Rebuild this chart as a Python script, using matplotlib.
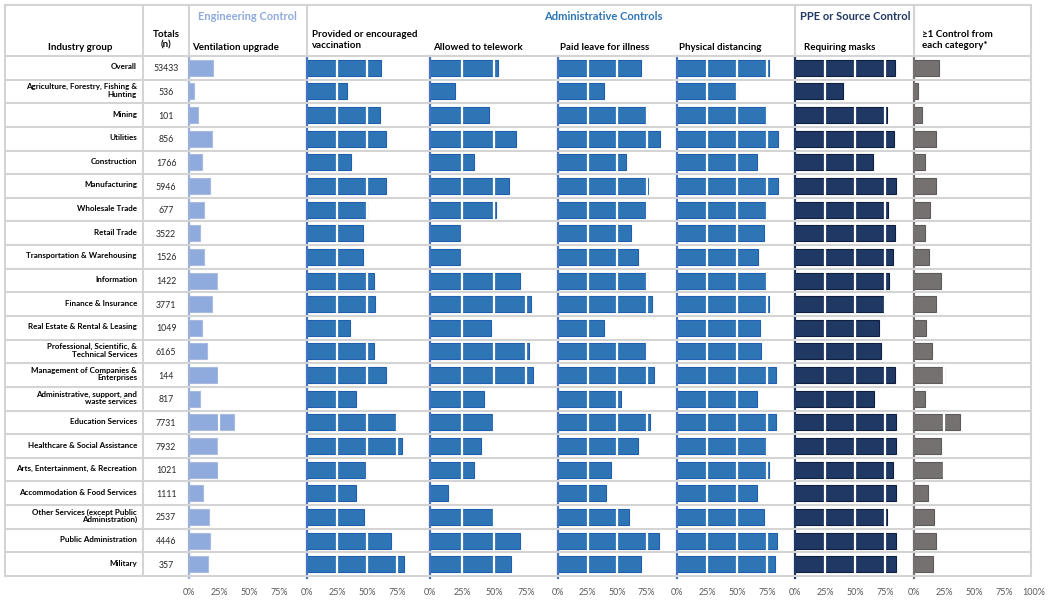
import matplotlib
matplotlib.use("Agg")
import matplotlib.pyplot as plt

plt.rcParams['font.family'] = ['Lato', 'DejaVu Sans']

industries = [
    "Overall",
    "Agriculture, Forestry, Fishing &\nHunting",
    "Mining",
    "Utilities",
    "Construction",
    "Manufacturing",
    "Wholesale Trade",
    "Retail Trade",
    "Transportation & Warehousing",
    "Information",
    "Finance & Insurance",
    "Real Estate & Rental & Leasing",
    "Professional, Scientific, &\nTechnical Services",
    "Management of Companies &\nEnterprises",
    "Administrative, support, and\nwaste services",
    "Education Services",
    "Healthcare & Social Assistance",
    "Arts, Entertainment, & Recreation",
    "Accommodation & Food Services",
    "Other Services (except Public\nAdministration)",
    "Public Administration",
    "Military",
]
totals = [53433, 536, 101, 856, 1766, 5946, 677, 3522, 1526, 1422, 3771, 1049,
          6165, 144, 817, 7731, 7932, 1021, 1111, 2537, 4446, 357]

ventilation = [19.7, 3.9, 7.8, 18.9, 11.1, 17.5, 12.8, 8.9, 12.8, 23.1, 18.9, 11.1,
               15.0, 25.0, 9.4, 37.2, 23.1, 24.4, 11.9, 16.7, 17.5, 15.8]
vaccination = [61.7, 33.3, 61.1, 65.8, 36.4, 65.8, 50.0, 46.7, 46.7, 55.6, 56.9, 35.6,
               55.6, 65.8, 40.6, 75.3, 79.4, 48.3, 40.6, 47.5, 69.7, 80.8]
telework = [53.4, 19.8, 45.8, 67.4, 34.1, 61.5, 51.8, 23.4, 23.4, 70.3, 78.6, 47.4,
            77.1, 80.2, 42.2, 48.7, 39.8, 34.6, 13.8, 49.5, 70.3, 63.0]
paid_leave = [70.1, 38.6, 75.0, 86.2, 57.2, 76.3, 73.2, 62.0, 67.6, 74.9, 79.7, 38.6,
              73.2, 81.4, 53.2, 77.5, 67.6, 45.1, 40.3, 60.3, 85.4, 70.1]
distancing = [76.9, 50.0, 74.4, 84.2, 66.7, 84.2, 74.4, 72.8, 67.5, 74.4, 76.9, 68.9,
              69.7, 82.5, 66.7, 82.5, 74.4, 76.9, 66.7, 72.8, 83.3, 81.7]
masks = [83.6, 40.0, 76.7, 82.2, 64.7, 84.4, 77.5, 83.6, 81.4, 78.3, 74.2, 70.0,
         71.7, 83.6, 65.6, 84.4, 84.4, 81.4, 84.4, 76.7, 84.4, 84.4]
all_categories = [20.6, 3.1, 6.9, 18.3, 9.4, 18.3, 13.3, 9.4, 12.8, 22.2, 18.3, 10.3,
                  15.0, 25.3, 9.4, 38.0, 22.2, 24.4, 11.9, 16.7, 18.3, 15.8]

panel_titles = ["Ventilation upgrade", "Provided or encouraged\nvaccination",
                "Allowed to telework", "Paid leave for illness", "Physical distancing",
                "Requiring masks", "\u22651 Control from\neach category*"]
group_titles = ["Engineering Control", "Administrative Controls", "PPE or Source Control"]

W, H = 1050, 600
fig = plt.figure(figsize=(W / 100, H / 100), dpi=100)

TOP, HDR, BOT = 5, 56, 576
LEFT, RIGHT = 5, 1031
n = len(industries)
rowh = (BOT - HDR) / n

# panel layout: (x0 px, width px, px per percent)
c_eng = "#8FAADC"
c_adm = "#2E75B6"
c_ppe = "#203864"
c_all = "#767171"
panels = [
    (ventilation, 189, 116, 1.20, c_eng, "#A9BBE0", "#9DB0DC", [0, 25, 50, 75]),
    (vaccination, 307, 120, 1.20, c_adm, "#1F5FAE", "#4472C4", [0, 25, 50, 75]),
    (telework, 430, 125, 1.28, c_adm, "#1F5FAE", "#4472C4", [0, 25, 50, 75]),
    (paid_leave, 558, 116, 1.183, c_adm, "#1F5FAE", "#4472C4", [0, 25, 50, 75]),
    (distancing, 677, 116, 1.20, c_adm, "#1F5FAE", "#4472C4", [0, 25, 50, 75]),
    (masks, 795, 117, 1.20, c_ppe, "#0F1F40", "#203864", [0, 25, 50, 75]),
    (all_categories, 914, 121, 1.20, c_all, "#5F5B5B", "#767171", [0, 25, 50, 75, 100]),
]

for vals, x0, wpx, scale, col, ecol, spcol, ticks in panels:
    ax = fig.add_axes([x0 / W, 1 - (BOT + 2) / H, wpx / W, (BOT + 2 - HDR) / H])
    ax.set_facecolor('none')
    ax.set_xlim(0, wpx / scale)
    ax.set_ylim(n - 0.5 + 2 / rowh, -0.5)
    ax.barh(range(n), vals, height=0.68, color=col, edgecolor=ecol, linewidth=0.8, zorder=2)
    for g in (25, 50, 75):
        ax.axvline(g, color='white', lw=1.6, zorder=3)
    for s in ('top', 'right', 'bottom'):
        ax.spines[s].set_visible(False)
    ax.spines['left'].set_color(spcol)
    ax.spines['left'].set_linewidth(1.6)
    ax.set_yticks([])
    ax.set_xticks(ticks)
    ax.set_xticklabels([f"{t}%" for t in ticks], fontsize=6.5, color="#595959")
    ax.tick_params(axis='x', length=0, pad=7)

# overlay for table lines and text
ax0 = fig.add_axes([0, 0, 1, 1], zorder=10)
ax0.set_facecolor('none')
ax0.set_xlim(0, W)
ax0.set_ylim(H, 0)
ax0.axis('off')

lc = "#D4D4D4"
ax0.plot([LEFT, RIGHT], [TOP, TOP], color=lc, lw=1.5)
for i in range(n + 1):
    y = HDR + i * rowh
    ax0.plot([LEFT, RIGHT], [y, y], color=lc, lw=1.5)
for x in (LEFT, 143, RIGHT):
    ax0.plot([x, x], [TOP, BOT], color=lc, lw=1.5)
for x in (189, 307, 795, 914):
    ax0.plot([x, x], [TOP, HDR], color=lc, lw=1.5)

# header text
ax0.text(80, 47, "Industry group", ha='center', va='center', fontsize=7, fontweight='bold')
ax0.text(166, 40, "Totals\n(n)", ha='center', va='center', fontsize=7, fontweight='bold',
         linespacing=1.25)
ax0.text(247, 17, group_titles[0], ha='center', va='center', fontsize=8, fontweight='bold',
         color=c_eng)
ax0.text(603, 17, group_titles[1], ha='center', va='center', fontsize=8, fontweight='bold',
         color=c_adm)
ax0.text(855, 17, group_titles[2], ha='center', va='center', fontsize=8, fontweight='bold',
         color=c_ppe)
title_x = [192, 312, 433, 560, 679, 804, 922]
for tx, t in zip(title_x, panel_titles):
    if "\n" in t:
        ax0.text(tx, 40, t, ha='left', va='center', fontsize=7, fontweight='bold',
                 linespacing=1.25)
    else:
        ax0.text(tx, 47, t, ha='left', va='center', fontsize=7, fontweight='bold')

for i, (lab, tot) in enumerate(zip(industries, totals)):
    yc = HDR + (i + 0.5) * rowh
    ax0.text(137, yc - 1, lab, ha='right', va='center', fontsize=5.8, fontweight='bold',
             linespacing=1.05)
    ax0.text(166, yc + 1, str(tot), ha='center', va='center', fontsize=6.3, color="#262626")

fig.savefig("out.png", dpi=100, facecolor='white')
